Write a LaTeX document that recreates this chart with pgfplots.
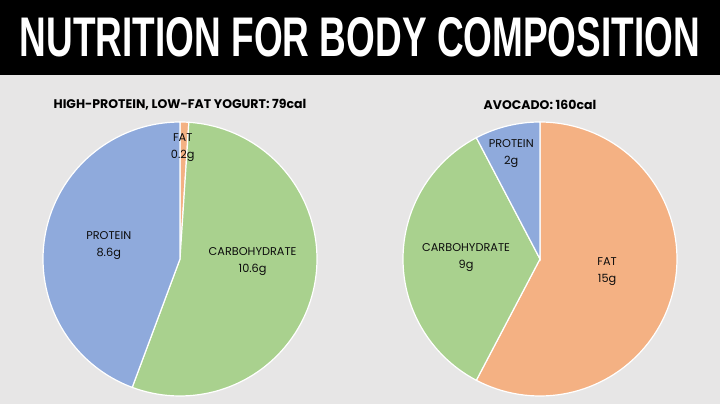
\documentclass[border=0pt]{standalone}
\usepackage{fontspec}
\setmainfont{Poppins}
\newfontfamily\titlefont{Liberation Sans}
\usepackage{graphicx}
\usepackage{pgfplots}
\usepackage{pgfplotstable}
\pgfplotsset{compat=1.18}

\definecolor{bg}{HTML}{E7E6E6}
\definecolor{pblue}{HTML}{8FAADC}
\definecolor{pgreen}{HTML}{A9D18E}
\definecolor{porange}{HTML}{F4B183}
\definecolor{txt}{HTML}{0D0D0D}

% grams per part, in the order the slices run clockwise from 12 o'clock
\pgfplotstableread{
part grams
FAT 0.2
CARBOHYDRATE 10.6
PROTEIN 8.6
}\yogurt
\pgfplotstableread{
part grams
FAT 15
CARBOHYDRATE 9
PROTEIN 2
}\avocado

% slice from angle #1 down to #2 (degrees), colour #3
\newcommand{\pieslice}[3]{%
  \addplot[fill=#3, draw=white, line width=1.2pt, domain=#2:#1, samples=90, variable=\t]
    ({cos(\t)},{sin(\t)}) -- (axis cs:0,0) -- cycle;}

\pgfplotsset{pie/.style={hide axis, scale only axis, width=274pt, height=274pt,
  xmin=-1, xmax=1, ymin=-1, ymax=1, clip=false, anchor=center}}
\tikzset{lbl/.style={align=center, text=txt, font=\fontsize{11.3}{17}\selectfont}}

\begin{document}
\begin{tikzpicture}[x=1pt,y=1pt]
\useasboundingbox (0,0) rectangle (720,404);
\fill[bg] (0,0) rectangle (720,404);
\fill[black] (0,329) rectangle (720,404);
\node[inner sep=0, text=white, anchor=center] at (360,366.5)
  {\resizebox{680pt}{39pt}{\titlefont\bfseries NUTRITION FOR BODY COMPOSITION}};

\node[text=black, font=\fontsize{12.5}{15}\selectfont\bfseries] at (180,299) {HIGH-PROTEIN, LOW-FAT YOGURT: 79cal};
\node[text=black, font=\fontsize{12.5}{15}\selectfont\bfseries] at (540,299) {AVOCADO: 160cal};

% yogurt angles
\pgfplotstablegetelem{0}{grams}\of\yogurt \let\ya\pgfplotsretval
\pgfplotstablegetelem{1}{grams}\of\yogurt \let\yb\pgfplotsretval
\pgfplotstablegetelem{2}{grams}\of\yogurt \let\yc\pgfplotsretval
\pgfmathsetmacro\yT{\ya+\yb+\yc}
\pgfmathsetmacro\yA{90-360*\ya/\yT}
\pgfmathsetmacro\yB{\yA-360*\yb/\yT}
\pgfmathsetmacro\yC{\yB-360*\yc/\yT}

\begin{axis}[pie, at={(180pt,145pt)}]
\pieslice{90}{\yA}{porange}
\pieslice{\yA}{\yB}{pgreen}
\pieslice{\yB}{\yC}{pblue}
\node[lbl] at (axis cs:0.02,0.81) {FAT\\0.2g};
\node[lbl] at (axis cs:-0.52,0.10) {PROTEIN\\8.6g};
\node[lbl] at (axis cs:0.53,-0.02) {CARBOHYDRATE\\10.6g};
\end{axis}

% avocado angles
\pgfplotstablegetelem{0}{grams}\of\avocado \let\va\pgfplotsretval
\pgfplotstablegetelem{1}{grams}\of\avocado \let\vb\pgfplotsretval
\pgfplotstablegetelem{2}{grams}\of\avocado \let\vc\pgfplotsretval
\pgfmathsetmacro\vT{\va+\vb+\vc}
\pgfmathsetmacro\vA{90-360*\va/\vT}
\pgfmathsetmacro\vB{\vA-360*\vb/\vT}
\pgfmathsetmacro\vC{\vB-360*\vc/\vT}

\begin{axis}[pie, at={(540pt,145pt)}]
\pieslice{90}{\vA}{porange}
\pieslice{\vA}{\vB}{pgreen}
\pieslice{\vB}{\vC}{pblue}
\node[lbl] at (axis cs:-0.21,0.77) {PROTEIN\\2g};
\node[lbl] at (axis cs:-0.54,0.01) {CARBOHYDRATE\\9g};
\node[lbl] at (axis cs:0.49,-0.09) {FAT\\15g};
\end{axis}
\end{tikzpicture}
\end{document}
